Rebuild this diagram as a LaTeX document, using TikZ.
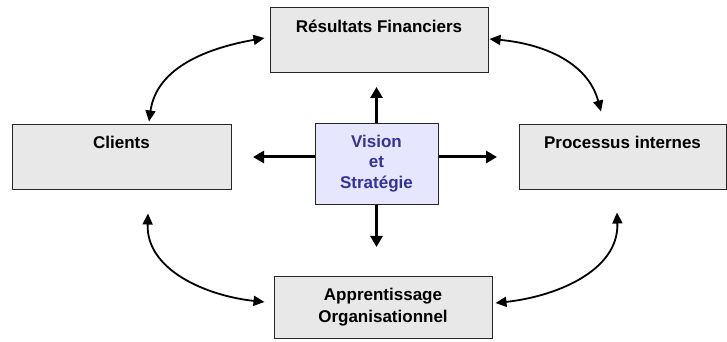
\documentclass[tikz,border=0pt]{standalone}
\usepackage{fontspec}
\setmainfont{Liberation Sans}
\usetikzlibrary{arrows.meta,positioning}

\definecolor{boxgray}{HTML}{E8E8E8}
\definecolor{visionfill}{HTML}{E6E6FF}
\definecolor{visiontext}{HTML}{333399}

\tikzset{
  box/.style={draw=black!85, line width=1pt, fill=boxgray, minimum height=65pt, inner sep=0pt},
  ttl/.style={font=\fontsize{17}{21}\selectfont\bfseries, align=center, inner sep=0pt},
  radial/.style={line width=3pt, -{Triangle[length=11pt,width=12pt]}},
  cycarrow/.style={line width=1.8pt, {Triangle[length=11pt,width=10pt]}-{Triangle[length=11pt,width=10pt]}}
}

\begin{document}
\begin{tikzpicture}[x=1pt,y=1pt]
          \useasboundingbox (0,0) rectangle (727,342);
          % the four perspectives
          \node[box, minimum width=218pt] (fin) at (379,301.5) {};
          \node[box, minimum width=219pt] (clients) at (121.5,184.5) {};
          \node[box, minimum width=207pt] (process) at (622.5,184.5) {};
          \node[box, minimum width=218pt, minimum height=62pt] (learn) at (383,34) {};
          \node[box, fill=visionfill, minimum width=123pt, minimum height=81pt] (vision) at (376.5,177.5) {};
          % titles (base = last line)
          \node[ttl, anchor=base] (fin-t) at ([yshift=-25pt]fin.north) {Résultats Financiers};
          \node[ttl, anchor=base] (clients-t) at ([yshift=-24pt]clients.north) {Clients};
          \node[ttl, anchor=base] (process-t) at ([yshift=-24pt]process.north) {Processus internes};
          \node[ttl, anchor=base, font=\fontsize{17}{22}\selectfont\bfseries] (learn-t) at ([yshift=-46pt]learn.north) {Apprentissage\\Organisationnel};
          \node[ttl, anchor=base, text=visiontext, font=\fontsize{17}{20.5}\selectfont\bfseries] (vision-t) at ([yshift=-65pt]vision.north) {Vision\\et\\Stratégie};
          % arrows out of the centre
          \coordinate (v-up) at (376.5,255);
          \coordinate (v-down) at (376.5,95);
          \coordinate (v-left) at (253,185);
          \coordinate (v-right) at (497,185);
          \draw[radial] (vision.north) -- (v-up);
          \draw[radial] (vision.south) -- (v-down);
          \draw[radial] (vision.west |- v-left) -- (v-left);
          \draw[radial] (vision.east |- v-right) -- (v-right);
          % the cycle
          \draw[cycarrow] ([xshift=27.5pt,yshift=3pt]clients.north) to[out=82,in=190] ([xshift=-5pt,yshift=2.5pt]fin.west);
          \draw[cycarrow] ([xshift=1pt,yshift=1.5pt]fin.east) to[out=-5,in=105] ([xshift=-21.5pt,yshift=13pt]process.north);
          \draw[cycarrow] ([xshift=26.5pt,yshift=-23pt]clients.south) to[out=-92,in=174] ([xshift=-9pt,yshift=6pt]learn.west);
          \draw[cycarrow] ([xshift=-5.5pt,yshift=-22pt]process.south) to[out=-88,in=6] ([xshift=3pt,yshift=5pt]learn.east);
        \end{tikzpicture}
\end{document}
